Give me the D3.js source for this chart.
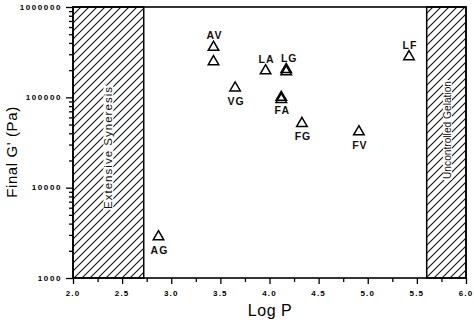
<!DOCTYPE html>
<html><head><meta charset="utf-8">
<script src="https://cdn.jsdelivr.net/npm/d3@7"></script>
<style>body{margin:0;background:#fff}svg{display:block}</style>
</head><body>
<svg id="c" width="474" height="324"></svg>
<script>
// ---- data ----
const labels  = ["AV", "",     "VG",   "LA",   "LG",   "",     "FA",  "",    "FG",  "LF",   "FV",  "AG"];
const logP    = [3.43, 3.43,   3.65,   3.96,   4.17,   4.17,   4.12,  4.12,  4.33,  5.42,   4.91,  2.87];
const finalG  = [358000,248000,127000, 197000, 203000, 192000, 100000,95000, 51500, 282000, 41600, 2860];
const labelPos= ["above","",   "below","above","above","",     "below","",   "below","above","below","below"];
const regions = [{x0:2.0, x1:2.72, text:"Extensive Syneresis"},{x0:5.6, x1:6.0, text:"Uncontrolled Gelation"}];
const xTicks  = [2.0, 2.5, 3.0, 3.5, 4.0, 4.5, 5.0, 5.5, 6.0];
const yTicks  = [1000, 10000, 100000, 1000000];

const svg = d3.select("#c");
const m = {l:73, r:466, t:7, b:278};
const x = d3.scaleLinear().domain([2,6]).range([m.l, m.r]);
const y = d3.scaleLog().domain([1000,1000000]).range([m.b, m.t]);

// hatch pattern
const defs = svg.append("defs");
const pat = defs.append("pattern").attr("id","hatch").attr("patternUnits","userSpaceOnUse")
  .attr("width",8).attr("height",8);
pat.append("rect").attr("width",8).attr("height",8).attr("fill","#fff");
pat.append("path").attr("d","M-2,2 L2,-2 M0,8 L8,0 M6,10 L10,6")
  .attr("stroke","#111").attr("stroke-width",1.1);

// regions
regions.forEach(r => {
  svg.append("rect").attr("x",x(r.x0)).attr("y",m.t).attr("width",x(r.x1)-x(r.x0)).attr("height",m.b-m.t)
    .attr("fill","url(#hatch)").attr("stroke","#000").attr("stroke-width",1.5);
  const left = r.x0 < 3;
  const cx = (x(r.x0)+x(r.x1))/2 + (left ? 0 : 1), cy = left ? 148 : 130;
  const g = svg.append("g").attr("transform",`translate(${cx},${cy}) rotate(-90)`);
  const t = g.append("text").attr("text-anchor","middle").attr("dy","0.35em")
    .attr("font-family","Arial, Liberation Sans, sans-serif").attr("font-size", left ? 11.5 : 10.2)
    .attr("fill","#111").text(r.text);
  if (left) t.attr("textLength",122).attr("lengthAdjust","spacing");
  const bb = t.node().getBBox();
  g.insert("rect","text").attr("x",bb.x-1).attr("y",bb.y+1).attr("width",bb.width+2).attr("height",bb.height-2).attr("fill","#fff");
});

// frame
svg.append("rect").attr("x",m.l).attr("y",m.t).attr("width",m.r-m.l).attr("height",m.b-m.t)
  .attr("fill","none").attr("stroke","#000").attr("stroke-width",1.6);

const tickFont = "Arial, Liberation Sans, sans-serif";
// x axis
const xa = svg.append("g").attr("transform",`translate(0,${m.b})`)
  .call(d3.axisBottom(x).tickValues(d3.range(2,6.01,0.25)).tickSize(5).tickFormat(""));
xa.select(".domain").remove();
xa.selectAll(".tick line").attr("stroke","#000").attr("stroke-width",1.3)
  .attr("y2", d => (Math.abs(d*2-Math.round(d*2))<1e-6) ? 6 : 4);
svg.append("g").selectAll("text").data(xTicks).join("text")
  .attr("x",d=>x(d)).attr("y",296).attr("text-anchor","middle")
  .attr("font-family",tickFont).attr("font-size",8).attr("font-weight","bold").attr("letter-spacing",1.2)
  .text(d=>d.toFixed(1));

// y axis
const minor = [];
for (let e=3;e<6;e++) for (let k=2;k<=9;k++) minor.push(k*Math.pow(10,e));
const ya = svg.append("g").attr("transform",`translate(${m.l},0)`)
  .call(d3.axisLeft(y).tickValues(yTicks.concat(minor)).tickSize(7).tickFormat(""));
ya.select(".domain").remove();
ya.selectAll(".tick line").attr("stroke","#000").attr("stroke-width",1.3)
  .attr("x2", d => yTicks.includes(d) ? -7 : -4);
svg.append("g").selectAll("text").data(yTicks).join("text")
  .attr("x",62).attr("y",d=>y(d)).attr("dy","0.35em").attr("text-anchor","end")
  .attr("font-family",tickFont).attr("font-size",8).attr("font-weight","bold").attr("letter-spacing",1.6)
  .text(d=>String(d));

// axis titles
svg.append("text").attr("x",270).attr("y",316).attr("text-anchor","middle")
  .attr("font-family",tickFont).attr("font-size",16).attr("letter-spacing",0.5).text("Log P");
svg.append("text").attr("transform","translate(17,152) rotate(-90)").attr("text-anchor","middle")
  .attr("font-family",tickFont).attr("font-size",15).attr("letter-spacing",0.6).text("Final G' (Pa)");

// points
const tri = d3.symbol().type(d3.symbolTriangle).size(48);
const pts = logP.map((v,i)=>({x:v, y:finalG[i], label:labels[i], pos:labelPos[i]}));
svg.append("g").selectAll("path").data(pts).join("path")
  .attr("d",tri).attr("transform",d=>`translate(${x(d.x)},${y(d.y)})`)
  .attr("fill","none").attr("stroke","#000").attr("stroke-width",1.5);
svg.append("g").selectAll("text").data(pts.filter(d=>d.label)).join("text")
  .attr("x",d=>x(d.x)+(d.label==="LG"?3:1)).attr("y",d=>y(d.y)+(d.pos==="above"?-8:17)).attr("text-anchor","middle")
  .attr("font-family",tickFont).attr("font-size",10.5).attr("font-weight","bold").attr("letter-spacing",1)
  .attr("fill","#111").text(d=>d.label);
</script>
</body></html>
